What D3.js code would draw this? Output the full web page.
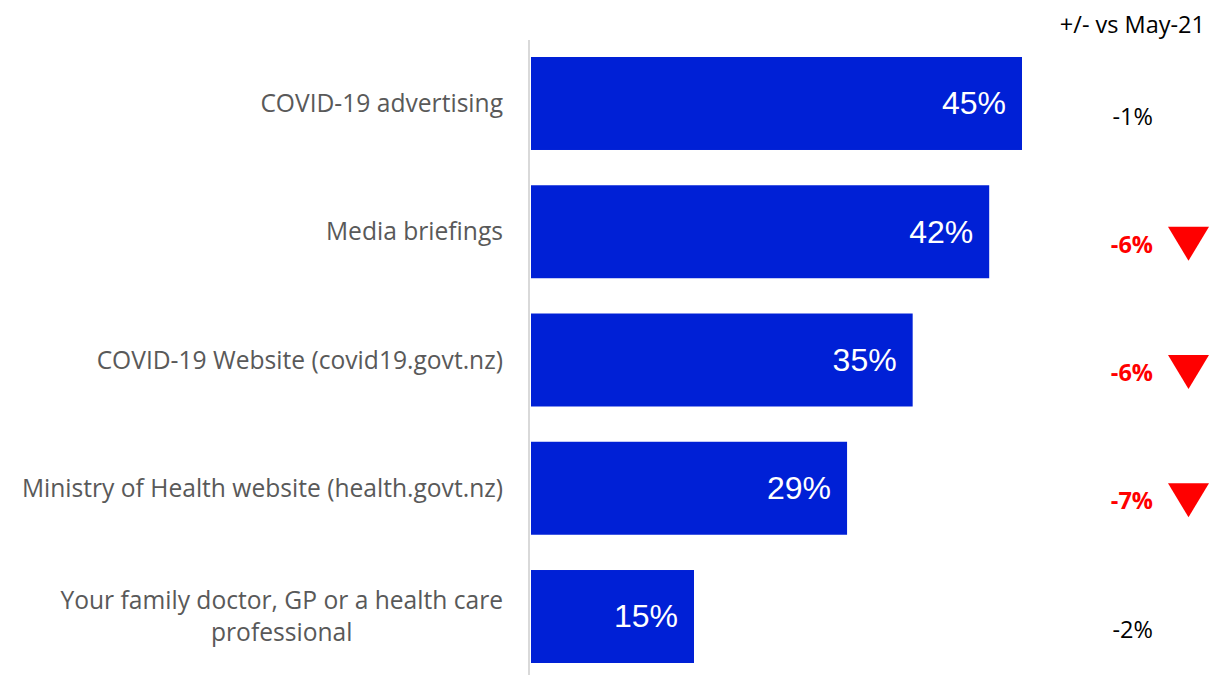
<!DOCTYPE html>
<html>
<head>
<meta charset="utf-8">
<script src="https://cdn.jsdelivr.net/npm/d3@7"></script>
<style>
  html, body { margin: 0; padding: 0; background: #fff; }
  svg { display: block; }
</style>
</head>
<body>
<svg id="chart" width="1212" height="675"></svg>
<script>
// Sources of COVID-19 information, share of respondents
const categories = [
  ["COVID-19 advertising"],
  ["Media briefings"],
  ["COVID-19 Website (covid19.govt.nz)"],
  ["Ministry of Health website (health.govt.nz)"],
  ["Your family doctor, GP or a health care", "professional"]
];
const values = [45, 42, 35, 29, 15];
const changes = [-1, -6, -6, -7, -2];
const significant = [false, true, true, true, false];
const changeHeader = "+/- vs May-21";

const svg = d3.select("#chart");
const labelFont = "'Open Sans', 'Noto Sans', sans-serif";

const x = d3.scaleLinear().domain([0, 45]).range([530, 1022]);
const y = d3.scaleBand()
  .domain(d3.range(values.length))
  .range([57, 663])
  .paddingInner(0.275)
  .paddingOuter(0);

// vertical baseline
svg.append("line")
  .attr("x1", 529).attr("x2", 529)
  .attr("y1", 40).attr("y2", 675)
  .attr("stroke", "#d9d9d9").attr("stroke-width", 2);

// bars
svg.append("g").selectAll("rect")
  .data(values)
  .join("rect")
  .attr("x", x(0) + 1)
  .attr("y", (d, i) => y(i))
  .attr("width", d => x(d) - x(0) - 1)
  .attr("height", y.bandwidth())
  .attr("fill", "#0020d6");

// value labels inside bar ends
svg.append("g").selectAll("text")
  .data(values)
  .join("text")
  .attr("x", d => x(d) - 16)
  .attr("y", (d, i) => y(i) + y.bandwidth() / 2)
  .attr("dy", "0.34em")
  .attr("text-anchor", "end")
  .attr("fill", "#fff")
  .attr("font-family", "'Liberation Sans', Arial, sans-serif")
  .attr("font-size", 32)
  .text(d => d + "%");

// category labels: block right-aligned, lines centred within it
const catG = svg.append("g");
categories.forEach((lines, i) => {
  const cy = y(i) + y.bandwidth() / 2;
  const t = catG.append("text")
    .attr("fill", "#595959")
    .attr("font-family", labelFont)
    .attr("font-size", 24.6);
  const lh = 32;
  const y0 = cy - (lines.length - 1) * lh / 2;
  lines.forEach((s, j) => {
    t.append("tspan").attr("y", y0 + j * lh).attr("dy", "0.35em").text(s);
  });
  const spans = t.selectAll("tspan").nodes();
  const maxW = d3.max(spans, n => n.getComputedTextLength());
  const center = 503 - maxW / 2;
  spans.forEach(n => {
    d3.select(n).attr("x", center).attr("text-anchor", "middle");
  });
});

// header for change column
svg.append("text")
  .attr("x", 1205).attr("y", 25)
  .attr("dy", "0.35em")
  .attr("text-anchor", "end")
  .attr("fill", "#000")
  .attr("font-family", labelFont)
  .attr("font-size", 23.5)
  .text(changeHeader);

// change values and down markers
const chG = svg.append("g");
changes.forEach((c, i) => {
  const cy = y(i) + y.bandwidth() / 2 + 13;
  chG.append("text")
    .attr("x", 1153).attr("y", cy)
    .attr("dy", "0.35em")
    .attr("text-anchor", "end")
    .attr("fill", significant[i] ? "#ff0000" : "#000")
    .attr("font-weight", significant[i] ? "bold" : "normal")
    .attr("font-family", labelFont)
    .attr("font-size", 23.5)
    .text(c + "%");
  if (significant[i]) {
    const tx = 1188.5;
    chG.append("path")
      .attr("d", `M${tx - 20.5},${cy - 18} L${tx + 20.5},${cy - 18} L${tx},${cy + 16} Z`)
      .attr("fill", "#ff0000");
  }
});
</script>
</body>
</html>
